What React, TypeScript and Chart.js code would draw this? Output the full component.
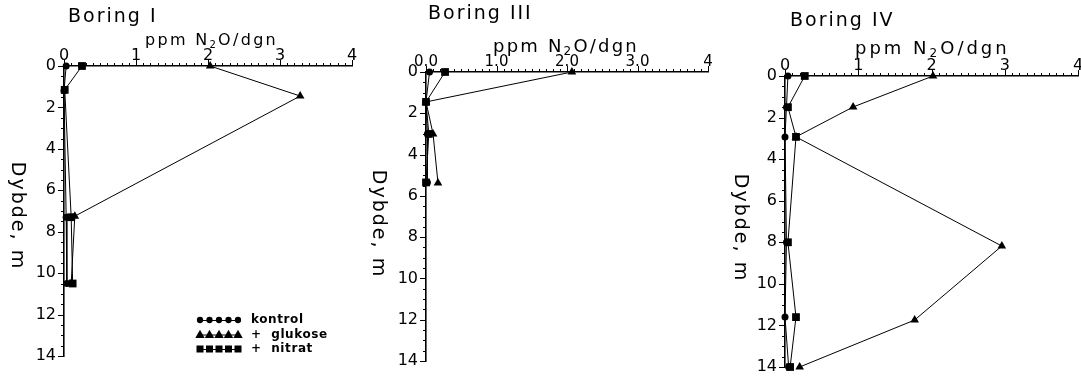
import React, { useEffect, useRef } from "react";
import { Chart, registerables } from "chart.js";

Chart.register(...registerables);

// ---------- data ----------
const depthMin = 0;
const depthMax = 14;
const concMin = 0;
const concMax = 4;
const xTickLabelsInt = ["0", "1", "2", "3", "4"];
const xTickLabelsDec = ["0.0", "1.0", "2.0", "3.0", "4"];
const seriesNames = ["kontrol", "+  glukose", "+  nitrat"];
const panelTitles = ["Boring I", "Boring III", "Boring IV"];
const unitLabelParts = ["ppm N", "2", "O/dgn"];
const depthLabel = "Dybde, m";

// Boring I
const boring1Kontrol = [
  { x: 0.03, y: 0 },
  { x: 0.0, y: 1.2 },
  { x: 0.03, y: 7.3 },
  { x: 0.04, y: 10.5 },
];
const boring1Glukose = [
  { x: 2.03, y: 0 },
  { x: 3.28, y: 1.45 },
  { x: 0.15, y: 7.25 },
  { x: 0.1, y: 10.5 },
];
const boring1Nitrat = [
  { x: 0.25, y: 0 },
  { x: 0.01, y: 1.15 },
  { x: 0.1, y: 7.3 },
  { x: 0.12, y: 10.5 },
];

// Boring III
const boring3Kontrol = [
  { x: 0.05, y: 0 },
  { x: 0.0, y: 1.45 },
  { x: 0.02, y: 3.0 },
  { x: 0.02, y: 5.35 },
];
const boring3Glukose = [
  { x: 2.07, y: 0 },
  { x: 0.0, y: 1.45 },
  { x: 0.1, y: 3.0 },
  { x: 0.17, y: 5.38 },
];
const boring3Nitrat = [
  { x: 0.27, y: 0 },
  { x: 0.0, y: 1.45 },
  { x: 0.04, y: 3.0 },
  { x: 0.0, y: 5.35 },
];

// Boring IV
const boring4Kontrol = [
  { x: 0.04, y: 0 },
  { x: 0.02, y: 1.5 },
  { x: 0.0, y: 2.93 },
  { x: 0.02, y: 8.0 },
  { x: 0.0, y: 11.6 },
  { x: 0.05, y: 14.0 },
];
const boring4Glukose = [
  { x: 2.02, y: 0 },
  { x: 0.93, y: 1.49 },
  { x: 0.15, y: 2.93 },
  { x: 2.96, y: 8.18 },
  { x: 1.77, y: 11.74 },
  { x: 0.2, y: 14.0 },
];
const boring4Nitrat = [
  { x: 0.27, y: 0 },
  { x: 0.04, y: 1.5 },
  { x: 0.15, y: 2.93 },
  { x: 0.04, y: 8.0 },
  { x: 0.15, y: 11.6 },
  { x: 0.07, y: 14.0 },
];

// ---------- layout / styles ----------
const FONT = "'DejaVu Sans', 'Liberation Sans', sans-serif";
const CANVAS_H = 400;

type Pt = { x: number; y: number };
interface PanelCfg {
  title: string;
  left: number;
  width: number;
  area: { left: number; right: number; top: number; bottom: number };
  xLabels: string[];
  kontrol: Pt[];
  glukose: Pt[];
  nitrat: Pt[];
  titleX: number;
  titleY: number;
  unitX: number;
  unitY: number;
  unitSize: number;
  unitSpacing: number;
  xTickSize: number;
  depthX: number;
  depthY: number;
  legend: boolean;
}

const panels: PanelCfg[] = [
  {
    title: panelTitles[0],
    left: 0,
    width: 372,
    area: { left: 64, right: 352, top: 66, bottom: 356 },
    xLabels: xTickLabelsInt,
    kontrol: boring1Kontrol,
    glukose: boring1Glukose,
    nitrat: boring1Nitrat,
    titleX: 68,
    titleY: 22,
    unitX: 145,
    unitY: 45,
    unitSize: 16,
    unitSpacing: 2.3,
    xTickSize: 16,
    depthX: 17,
    depthY: 216,
    legend: true,
  },
  {
    title: panelTitles[1],
    left: 360,
    width: 370,
    area: { left: 426, right: 708, top: 72, bottom: 361 },
    xLabels: xTickLabelsDec,
    kontrol: boring3Kontrol,
    glukose: boring3Glukose,
    nitrat: boring3Nitrat,
    titleX: 428,
    titleY: 19,
    unitX: 493,
    unitY: 52,
    unitSize: 18,
    unitSpacing: 2.2,
    xTickSize: 15,
    depthX: 378,
    depthY: 224,
    legend: false,
  },
  {
    title: panelTitles[2],
    left: 720,
    width: 372,
    area: { left: 785, right: 1078, top: 76, bottom: 367 },
    xLabels: xTickLabelsInt,
    kontrol: boring4Kontrol,
    glukose: boring4Glukose,
    nitrat: boring4Nitrat,
    titleX: 790,
    titleY: 26,
    unitX: 855,
    unitY: 54,
    unitSize: 18,
    unitSpacing: 3,
    xTickSize: 16,
    depthX: 740,
    depthY: 228,
    legend: false,
  },
];

function drawMarker(ctx: CanvasRenderingContext2D, style: string, x: number, y: number, s: number) {
  ctx.beginPath();
  if (style === "circle") {
    ctx.arc(x, y, s * 0.45, 0, Math.PI * 2);
    ctx.fill();
  } else if (style === "triangle") {
    ctx.moveTo(x, y - s * 0.55);
    ctx.lineTo(x + s * 0.55, y + s * 0.4);
    ctx.lineTo(x - s * 0.55, y + s * 0.4);
    ctx.closePath();
    ctx.fill();
  } else {
    ctx.fillRect(x - s / 2, y - s / 2, s, s);
  }
}

function makeDecorPlugin(p: PanelCfg) {
  return {
    id: "decor",
    afterDraw(chart: any) {
      const ctx: CanvasRenderingContext2D = chart.ctx;
      const xs = chart.scales.x;
      const ys = chart.scales.y;
      const ca = chart.chartArea;
      const ox = p.left;
      ctx.save();
      ctx.strokeStyle = "#000";
      ctx.fillStyle = "#000";
      ctx.lineWidth = 1;
      // minor / major ticks on x (pointing up)
      for (let i = 0; i <= 40; i++) {
        const px = Math.round(xs.getPixelForValue(i / 10)) + 0.5;
        const len = i % 10 === 0 ? 6 : 3;
        ctx.beginPath();
        ctx.moveTo(px, ca.top);
        ctx.lineTo(px, ca.top - len);
        ctx.stroke();
      }
      // ticks on y (pointing left)
      for (let j = 0; j <= 28; j++) {
        const py = Math.round(ys.getPixelForValue(j / 2)) + 0.5;
        const len = j % 4 === 0 ? 6 : 3;
        ctx.beginPath();
        ctx.moveTo(ca.left, py);
        ctx.lineTo(ca.left - len, py);
        ctx.stroke();
      }
      // title
      ctx.textAlign = "left";
      ctx.textBaseline = "alphabetic";
      (ctx as any).letterSpacing = "2px";
      ctx.font = `19px ${FONT}`;
      ctx.fillText(p.title, p.titleX - ox, p.titleY);
      // unit label with subscript
      (ctx as any).letterSpacing = `${p.unitSpacing}px`;
      ctx.font = `${p.unitSize}px ${FONT}`;
      let ux = p.unitX - ox;
      ctx.fillText(unitLabelParts[0], ux, p.unitY);
      ux += ctx.measureText(unitLabelParts[0]).width;
      ctx.font = `${Math.round(p.unitSize * 0.65)}px ${FONT}`;
      ctx.fillText(unitLabelParts[1], ux, p.unitY + 3);
      ux += ctx.measureText(unitLabelParts[1]).width;
      ctx.font = `${p.unitSize}px ${FONT}`;
      ctx.fillText(unitLabelParts[2], ux, p.unitY);
      // depth label rotated clockwise
      ctx.save();
      ctx.translate(p.depthX - ox, p.depthY);
      ctx.rotate(Math.PI / 2);
      ctx.textAlign = "center";
      ctx.textBaseline = "middle";
      (ctx as any).letterSpacing = "2px";
      ctx.font = `19px ${FONT}`;
      ctx.fillText(depthLabel, 0, 0);
      ctx.restore();
      // legend
      if (p.legend) {
        const styles = ["circle", "triangle", "rect"];
        const sizes = [7, 8.5, 7];
        (ctx as any).letterSpacing = "0.6px";
        ctx.font = `bold 12px ${FONT}`;
        ctx.textBaseline = "middle";
        ctx.textAlign = "left";
        for (let r = 0; r < 3; r++) {
          const y = 320 + r * 14.5;
          ctx.beginPath();
          ctx.moveTo(198, y + 0.5);
          ctx.lineTo(240, y + 0.5);
          ctx.stroke();
          for (let k = 0; k < 5; k++) {
            drawMarker(ctx, styles[r], 200 + k * 9.5, y, sizes[r]);
          }
          ctx.fillText(seriesNames[r], 251, y);
        }
      }
      ctx.restore();
    },
  };
}

function makeConfig(p: PanelCfg): any {
  const ds = (label: string, data: Pt[], style: string, radius: number) => ({
    label,
    data,
    showLine: true,
    borderColor: "#000",
    borderWidth: 1,
    backgroundColor: "#000",
    pointBackgroundColor: "#000",
    pointBorderColor: "#000",
    pointBorderWidth: 0,
    pointStyle: style,
    pointRadius: radius,
    pointHoverRadius: radius,
    tension: 0,
    clip: false,
  });
  return {
    type: "scatter",
    data: {
      datasets: [
        ds(seriesNames[0], p.kontrol, "circle", 3.5),
        ds(seriesNames[1], p.glukose, "triangle", 5),
        ds(seriesNames[2], p.nitrat, "rect", 5.5),
      ],
    },
    options: {
      animation: false,
      responsive: false,
      events: [],
      layout: {
        padding: {
          left: 0,
          top: 0,
          right: p.width - (p.area.right - p.left),
          bottom: CANVAS_H - p.area.bottom,
        },
      },
      plugins: {
        legend: { display: false },
        tooltip: { enabled: false },
        title: { display: false },
      },
      scales: {
        x: {
          type: "linear",
          position: "top",
          min: concMin,
          max: concMax,
          ticks: {
            stepSize: 1,
            autoSkip: false,
            maxRotation: 0,
            padding: 1,
            color: "#000",
            font: { family: FONT, size: p.xTickSize },
            callback: (v: number) => p.xLabels[Math.round(v)] ?? "",
          },
          grid: { display: false, drawTicks: false },
          border: { display: true, color: "#000", width: 1.6 },
          afterFit: (s: any) => {
            s.height = p.area.top;
          },
        },
        y: {
          type: "linear",
          position: "left",
          reverse: true,
          min: depthMin,
          max: depthMax,
          ticks: {
            stepSize: 2,
            autoSkip: false,
            padding: 8,
            color: "#000",
            font: { family: FONT, size: 16 },
          },
          grid: { display: false, drawTicks: false },
          border: { display: true, color: "#000", width: 1.6 },
          afterFit: (s: any) => {
            s.width = p.area.left - p.left;
          },
        },
      },
    },
    plugins: [makeDecorPlugin(p)],
  };
}

export default function App() {
  const refs = useRef<(HTMLCanvasElement | null)[]>([]);
  useEffect(() => {
    const charts: Chart[] = [];
    panels.forEach((p, i) => {
      const c = refs.current[i];
      if (c) charts.push(new Chart(c, makeConfig(p)));
    });
    return () => charts.forEach((c) => c.destroy());
  }, []);
  return (
    <div
      style={{
        position: "fixed",
        left: 0,
        top: 0,
        width: 1081,
        height: 376,
        overflow: "hidden",
        background: "#fff",
      }}
    >
      {panels.map((p, i) => (
        <canvas
          key={i}
          ref={(el) => {
            refs.current[i] = el;
          }}
          width={p.width}
          height={CANVAS_H}
          style={{ position: "absolute", left: p.left, top: 0, width: p.width, height: CANVAS_H }}
        />
      ))}
    </div>
  );
}
